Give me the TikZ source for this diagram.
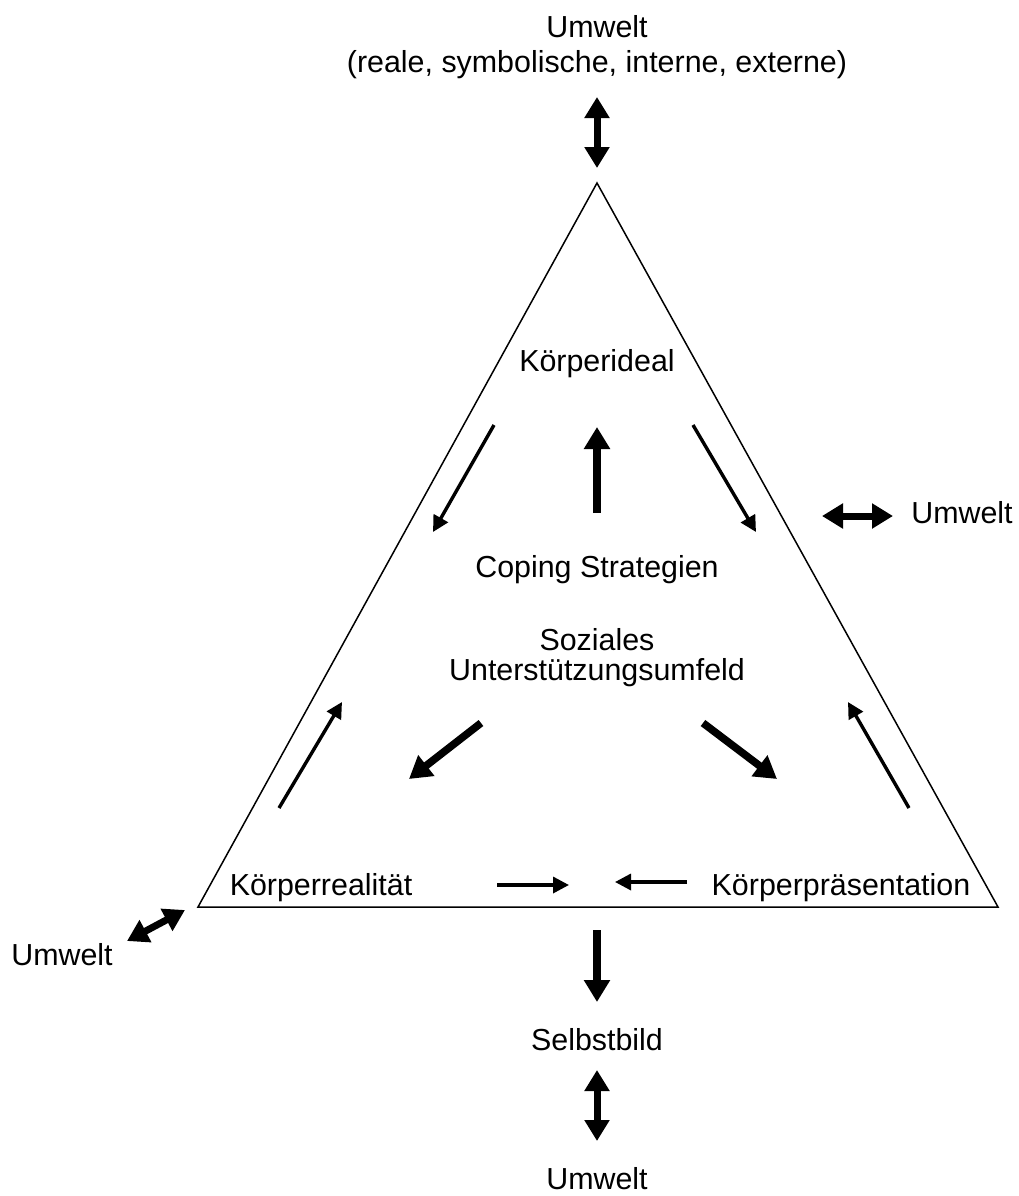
\documentclass[tikz,border=0pt]{standalone}
\usepackage{fontspec}
\setmainfont{Liberation Sans}
\usetikzlibrary{arrows.meta,positioning}

\begin{document}
\begin{tikzpicture}[
    x=0.5pt,y=-0.5pt,
    txt/.style={anchor=base,inner sep=0pt,font=\fontsize{15.2}{17.5}\selectfont},
    thinarrow/.style={->,line width=1.7pt,>={Triangle[width=8pt,length=8pt]}},
    boldarrow/.style={->,line width=3.8pt,>={Triangle[width=12.5pt,length=11pt]}},
    twoway/.style={<->,line width=3.5pt,>={Triangle[width=12pt,length=10.5pt]}}
]
\path[use as bounding box] (0,0) rectangle (1019,1196);

%--- Triangle ---%
\coordinate (apex) at (597,183);
\coordinate (left) at (198,907);
\coordinate (right) at (998,907);
\draw[line width=0.75pt] (apex) -- (right) -- (left) -- cycle;

%--- Texts ---%
\node[txt] (umweltTop) at (597,37) {Umwelt};
\node[txt] (umweltArten) at (597,72) {(reale, symbolische, interne, externe)};
\node[txt] (ideal) at (597,371) {Körperideal};
\node[txt] (coping) at (597,577) {Coping Strategien};
\node[txt] (sozial) at (597,650) {Soziales};
\node[txt] (umfeld) at (597,680) {Unterstützungsumfeld};
\node[txt] (realitaet) at (321,895) {Körperrealität};
\node[txt] (praesentation) at (841,895) {Körperpräsentation};
\node[txt] (umweltRechts) at (962,523) {Umwelt};
\node[txt] (umweltLinks) at (62,965) {Umwelt};
\node[txt] (selbstbild) at (597,1050) {Selbstbild};
\node[txt] (umweltUnten) at (597,1189) {Umwelt};

%--- Arrow end points ---%
\coordinate (top1) at (597,97);   \coordinate (top2) at (597,168);
\coordinate (up1) at (597,513);   \coordinate (up2) at (597,427);
\coordinate (il1) at (494,425);   \coordinate (il2) at (433,532);
\coordinate (ir1) at (693,425);   \coordinate (ir2) at (756,532);
\coordinate (sl1) at (481,723);   \coordinate (sl2) at (409,779);
\coordinate (sr1) at (703,723);   \coordinate (sr2) at (777,779);
\coordinate (rl1) at (279,808);   \coordinate (rl2) at (342,702);
\coordinate (pr1) at (909,808);   \coordinate (pr2) at (848,702);
\coordinate (bl1) at (497,885);   \coordinate (bl2) at (569,885);
\coordinate (br1) at (687,882);   \coordinate (br2) at (615,882);
\coordinate (re1) at (822,516);   \coordinate (re2) at (893,516);
\coordinate (li1) at (127,941);   \coordinate (li2) at (185,910);
\coordinate (dn1) at (597,930);   \coordinate (dn2) at (597,1002);
\coordinate (sb1) at (597,1070);  \coordinate (sb2) at (597,1141);

%--- Arrows ---%
\draw[twoway] (top1) -- (top2);
\draw[boldarrow] (up1) -- (up2);
\draw[thinarrow] (il1) -- (il2);
\draw[thinarrow] (ir1) -- (ir2);
\draw[boldarrow] (sl1) -- (sl2);
\draw[boldarrow] (sr1) -- (sr2);
\draw[thinarrow] (rl1) -- (rl2);
\draw[thinarrow] (pr1) -- (pr2);
\draw[thinarrow] (bl1) -- (bl2);
\draw[thinarrow] (br1) -- (br2);
\draw[twoway] (re1) -- (re2);
\draw[twoway] (li1) -- (li2);
\draw[boldarrow] (dn1) -- (dn2);
\draw[twoway] (sb1) -- (sb2);

\end{tikzpicture}
\end{document}
